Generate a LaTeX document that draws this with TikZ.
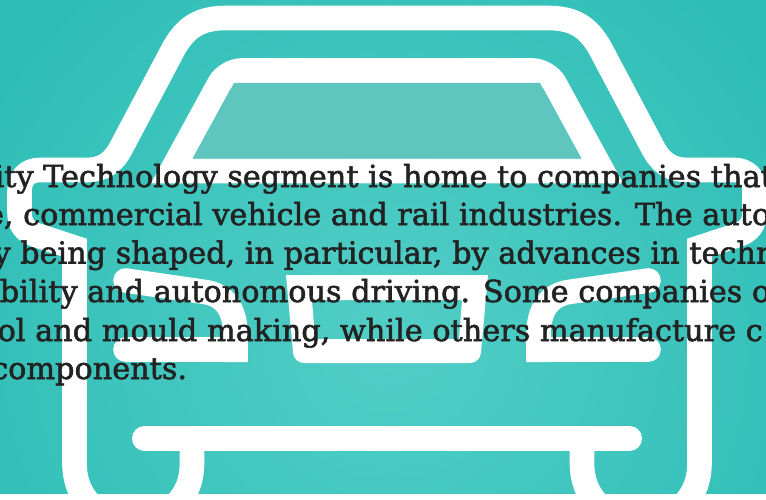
\documentclass[tikz,border=0pt]{standalone}
\usepackage{fontspec}
\setmainfont[FakeBold=1.8]{DejaVu Serif}
\definecolor{tealedge}{HTML}{2FBEB7}
\definecolor{tealmid}{HTML}{52CEC6}
\definecolor{glassc}{HTML}{5EC6BE}
\definecolor{inkc}{HTML}{222222}
\tikzset{
  x=1pt,y=-1pt,
  outl/.style={draw=white,line width=24.6pt,line join=miter,miter limit=10},
  para/.style={anchor=base west,font=\fontsize{30.3}{30.3}\selectfont,text=inkc,inner sep=0pt}
}
\newcommand{\carside}{
  % body outline, shoulder, mirror, side, wheel
  \draw[outl] (387,18) -- (226,18) .. controls (200,18) and (186,27) .. (174,48)
    -- (121,148) .. controls (113,163) and (103,170) .. (86,170)
    -- (40,170) .. controls (27,170) and (19.5,178) .. (19.5,192)
    -- (19.5,212) .. controls (19.5,225) and (25,231) .. (36,235)
    -- (74.5,247.6) -- (74.5,463)
    .. controls (74.5,500) and (100,520) .. (133,520)
    .. controls (166,520) and (192,500) .. (192,463) -- (192,426);
  % headlight
  \draw[outl] (125.5,280.5) -- (205,292) .. controls (225,295) and (235.5,310) .. (235.5,335) -- (235.5,362);
  \draw[outl] (125.5,349.5) -- (247.8,349.5);
  \fill[white] (125.5,280.5) circle[radius=12.3pt] (125.5,349.5) circle[radius=12.3pt];
}
\begin{document}
\begin{tikzpicture}
\useasboundingbox (0,0) rectangle (766,500);
\fill[white] (0,0) rectangle (766,500);
\begin{scope}
\clip (0,0) rectangle (766,493);
\shade[inner color=tealmid,outer color=tealedge] (-70,-120) rectangle (850,800);
% windscreen frame
\draw[outl] (171.6,171) [rounded corners=15pt] -- (226.5,70.5) -- (547.5,70.5) [sharp corners] -- (602.4,171) -- cycle;
\fill[glassc] (234,83) -- (540,83) -- (581,158.5) -- (193,158.5) -- cycle;
\carside
\begin{scope}[cm={-1,0,0,1,(774,0)}]
\carside
\end{scope}
% grille
\fill[white,even odd rule]
  (286,275) -- (488,275) [rounded corners=10pt] -- (480,363) -- (294,363) [sharp corners] -- cycle
  (312,300) -- (315,339) -- (459,339) -- (462,300) -- cycle;
% bumper bar
\draw[draw=white,line width=25pt,line cap=round] (144.5,438.5) -- (629.5,438.5);
% text
\node[para] (l1) at (43,187) {\llap{ity\ }Technology segment is home to companies that};
\node[para] (l2) at (23,225) {\llap{e,\ }commercial vehicle and rail industries. The autom};
\node[para] (l3) at (20,263.5) {\llap{y\ }being shaped, in particular, by advances in techn};
\node[para] (l4) at (87,302) {\llap{bility\ }and autonomous driving. Some companies o};
\node[para] (l5) at (35,341) {\llap{ol\ }and mould making, while others manufacture c};
\node[para] (l6) at (-9,379) {components.};
\end{scope}
\end{tikzpicture}
\end{document}
